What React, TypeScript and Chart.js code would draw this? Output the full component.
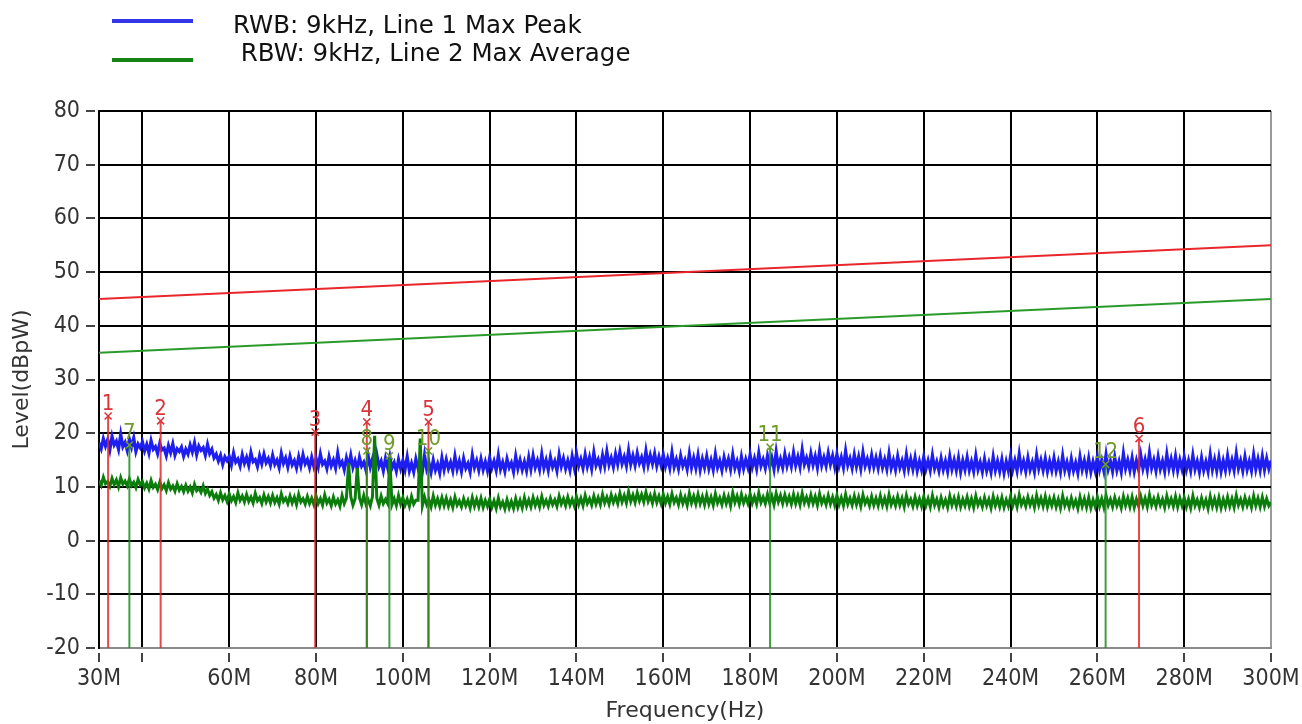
import React, { useEffect, useRef } from 'react';
import { Chart, registerables } from 'chart.js';

Chart.register(...registerables);

// ---------- data ----------
const FREQ_START_MHZ = 30;
const FREQ_STEP_MHZ = 0.5;

// Line 1: Max Peak trace (dBpW), one value every 0.5 MHz from 30 MHz to 300 MHz
const PEAK_LEVELS = [
  18.2, 17.1, 19.0, 17.6, 18.8, 16.9, 19.4, 17.8, 18.5, 17.0,
  19.8, 17.5, 18.3, 16.8, 18.9, 17.4, 19.1, 16.6, 18.0, 17.3,
  18.4, 16.7, 17.9, 16.3, 18.6, 17.0, 17.5, 16.2, 18.1, 16.9,
  17.2, 15.8, 17.7, 16.4, 18.0, 15.9, 17.1, 16.6, 17.4, 15.7,
  17.0, 16.1, 17.8, 16.5, 18.2, 16.0, 17.6, 16.8, 17.3, 15.9,
  17.9, 16.2, 17.0, 15.4, 16.1, 14.8, 15.9, 14.2, 15.6, 14.9,
  15.7, 14.1, 16.3, 14.6, 15.2, 13.9, 16.0, 14.4, 15.5, 14.0,
  16.4, 14.7, 15.1, 13.8, 15.8, 14.3, 16.1, 14.5, 15.3, 14.0,
  15.9, 14.2, 15.0, 13.6, 16.2, 14.4, 15.4, 13.7, 15.7, 14.1,
  14.9, 13.5, 15.6, 13.9, 16.0, 14.3, 15.1, 13.6, 15.5, 13.8,
  15.3, 13.7, 16.1, 14.2, 14.8, 13.4, 15.6, 13.9, 15.0, 13.5,
  16.3, 14.0, 14.7, 13.2, 15.4, 13.8, 15.9, 13.6, 14.9, 13.3,
  15.5, 13.9, 14.6, 13.1, 15.8, 13.7, 15.2, 13.4, 16.0, 13.8,
  14.8, 13.0, 15.3, 13.6, 15.7, 13.5, 14.5, 12.9, 15.1, 13.4,
  14.9, 13.2, 15.6, 13.0, 14.4, 12.8, 15.2, 13.5, 14.7, 12.9,
  15.9, 13.3, 14.5, 12.7, 15.0, 13.1, 14.3, 12.6, 15.4, 13.2,
  15.1, 13.4, 14.6, 13.0, 15.7, 13.3, 14.8, 12.9, 15.3, 13.5,
  14.4, 12.8, 15.9, 13.6, 14.9, 13.1, 15.2, 13.2, 14.7, 13.0,
  15.4, 13.5, 14.8, 13.1, 15.9, 13.3, 14.6, 12.9, 15.2, 13.6,
  14.5, 12.8, 15.7, 13.4, 15.0, 13.2, 14.7, 13.0, 15.5, 13.3,
  15.8, 13.6, 14.9, 13.2, 16.1, 13.5, 15.0, 13.1, 15.6, 13.7,
  14.8, 13.0, 16.0, 13.8, 15.3, 13.4, 14.9, 13.1, 15.7, 13.6,
  16.2, 13.9, 15.2, 13.5, 16.0, 13.8, 15.5, 13.4, 16.4, 14.0,
  15.1, 13.6, 15.9, 13.9, 16.6, 14.1, 15.4, 13.7, 16.1, 14.2,
  16.5, 14.3, 15.6, 13.9, 16.8, 14.2, 15.8, 14.0, 16.3, 14.4,
  15.5, 13.8, 16.7, 14.1, 15.9, 14.3, 16.2, 13.9, 15.6, 14.0,
  16.0, 13.8, 15.3, 13.5, 16.4, 13.7, 15.1, 13.4, 15.8, 13.9,
  15.0, 13.3, 16.2, 13.6, 15.4, 13.5, 15.9, 13.2, 15.2, 13.6,
  15.7, 13.4, 15.0, 13.2, 16.1, 13.6, 14.9, 13.1, 15.5, 13.7,
  15.2, 13.3, 16.0, 13.5, 14.8, 13.0, 15.6, 13.4, 15.1, 13.6,
  16.0, 13.7, 15.3, 13.4, 16.3, 13.9, 15.1, 13.5, 15.8, 13.8,
  15.4, 13.3, 16.5, 13.7, 15.2, 13.6, 16.1, 13.9, 15.5, 13.8,
  16.4, 14.0, 15.6, 13.7, 16.9, 14.2, 15.4, 13.8, 16.2, 14.1,
  15.7, 13.6, 16.6, 14.0, 15.5, 13.9, 16.3, 14.2, 15.8, 13.7,
  16.1, 13.9, 15.5, 13.6, 16.7, 14.0, 15.3, 13.5, 16.0, 13.8,
  15.6, 13.4, 16.4, 13.9, 15.2, 13.6, 15.9, 13.7, 15.4, 13.5,
  15.8, 13.6, 15.1, 13.3, 16.2, 13.5, 15.0, 13.2, 15.7, 13.6,
  14.9, 13.1, 16.0, 13.4, 15.2, 13.3, 15.5, 13.0, 14.8, 13.2,
  15.6, 13.3, 14.9, 13.1, 15.9, 13.4, 14.7, 13.0, 15.3, 13.2,
  14.8, 12.9, 15.7, 13.3, 15.0, 13.1, 15.4, 12.8, 14.9, 13.2,
  15.5, 13.1, 14.7, 12.9, 15.8, 13.2, 14.6, 12.8, 15.2, 13.0,
  14.5, 12.7, 15.6, 13.1, 14.8, 12.9, 15.1, 12.6, 14.7, 13.0,
  15.7, 13.2, 14.9, 13.0, 16.1, 13.3, 14.8, 12.9, 15.4, 13.2,
  14.6, 12.8, 15.9, 13.4, 15.0, 13.1, 15.3, 12.9, 14.8, 13.1,
  15.4, 13.0, 14.7, 12.8, 15.8, 13.1, 14.6, 12.7, 15.2, 13.0,
  14.5, 12.6, 15.6, 13.2, 14.9, 12.9, 15.3, 12.8, 14.7, 13.0,
  15.6, 13.2, 14.9, 13.0, 16.0, 13.3, 14.8, 12.9, 15.5, 13.1,
  14.7, 12.8, 16.2, 13.4, 15.0, 13.1, 15.4, 12.9, 14.9, 13.2,
  15.9, 13.4, 15.1, 13.1, 16.3, 13.5, 15.0, 13.0, 15.6, 13.3,
  14.8, 12.9, 16.1, 13.4, 15.2, 13.2, 15.7, 13.0, 15.0, 13.3,
  15.6, 13.2, 14.9, 13.0, 15.9, 13.3, 14.8, 12.8, 15.4, 13.1,
  14.7, 12.9, 16.0, 13.2, 15.1, 13.0, 15.5, 12.9, 14.9, 13.1,
  15.8, 13.3, 15.0, 13.1, 16.2, 13.4, 14.9, 13.0, 15.6, 13.2,
  14.8, 13.0, 16.0, 13.3, 15.2, 13.1, 15.7, 13.2, 15.3, 13.4,
  14.9,
];

// Line 2: Max Average trace (dBpW), same frequency grid
const AVG_LEVELS = [
  11.2, 10.3, 11.8, 10.6, 11.0, 10.1, 11.6, 10.4, 11.3, 10.0,
  11.7, 10.5, 11.1, 10.2, 11.5, 10.3, 10.9, 9.9, 11.4, 10.4,
  11.0, 9.8, 10.7, 9.6, 11.2, 9.9, 10.5, 9.5, 10.9, 9.7,
  10.4, 9.3, 10.8, 9.6, 10.2, 9.2, 10.6, 9.4, 10.1, 9.1,
  10.3, 9.2, 10.0, 8.9, 10.5, 9.3, 9.8, 9.0, 10.2, 8.8,
  9.6, 8.4, 9.1, 7.9, 8.6, 7.5, 8.9, 7.6, 8.4, 7.3,
  8.7, 7.4, 8.2, 7.1, 8.9, 7.5, 8.3, 7.2, 8.6, 7.3,
  8.1, 7.0, 8.8, 7.4, 8.0, 6.9, 8.5, 7.2, 8.2, 7.0,
  8.4, 7.1, 8.0, 6.8, 8.7, 7.3, 7.9, 6.9, 8.3, 7.0,
  8.1, 6.7, 8.6, 7.2, 7.8, 6.8, 8.2, 6.9, 7.9, 6.7,
  8.3, 6.9, 7.8, 6.6, 8.5, 7.0, 7.7, 6.5, 8.1, 6.8,
  7.6, 6.4, 8.4, 6.9, 7.9, 14.5, 8.2, 6.6, 7.8, 13.5,
  8.0, 6.7, 8.4, 6.8, 7.6, 6.5, 8.2, 19.5, 7.9, 6.6,
  8.3, 6.9, 7.7, 6.9, 15.2, 6.7, 7.8, 6.5, 8.4, 6.8,
  8.0, 6.6, 7.7, 6.4, 8.2, 6.8, 7.5, 7.5, 19.0, 6.5,
  8.1, 6.7, 7.6, 6.3, 8.3, 6.6, 7.8, 6.4, 8.0, 6.5,
  7.9, 6.4, 7.6, 6.2, 8.1, 6.6, 7.4, 6.3, 7.8, 6.5,
  7.5, 6.1, 8.0, 6.4, 7.7, 6.3, 7.9, 6.2, 7.5, 6.4,
  7.7, 6.2, 7.4, 6.0, 7.9, 6.3, 7.2, 5.9, 7.6, 6.1,
  7.3, 6.0, 7.8, 6.2, 7.5, 6.1, 8.0, 6.4, 7.6, 6.3,
  8.0, 6.5, 7.7, 6.3, 8.2, 6.6, 7.5, 6.4, 7.9, 6.7,
  7.6, 6.4, 8.3, 6.8, 7.8, 6.5, 8.1, 6.6, 7.7, 6.5,
  8.2, 6.7, 7.9, 6.5, 8.4, 6.9, 7.8, 6.6, 8.3, 6.8,
  8.0, 6.7, 8.6, 7.0, 8.1, 6.8, 8.5, 7.1, 8.2, 6.9,
  8.8, 7.2, 8.4, 7.0, 9.1, 7.3, 8.5, 7.1, 8.9, 7.4,
  8.6, 7.2, 9.0, 7.3, 8.4, 7.0, 8.7, 7.1, 8.3, 6.9,
  8.6, 7.0, 8.2, 6.8, 8.7, 7.1, 8.0, 6.7, 8.5, 6.9,
  8.1, 6.6, 8.8, 7.0, 8.3, 6.8, 8.6, 6.9, 8.2, 6.7,
  8.5, 6.8, 8.1, 6.6, 8.7, 7.0, 8.0, 6.7, 8.4, 6.9,
  8.2, 6.5, 8.9, 7.1, 8.3, 6.8, 8.6, 7.0, 8.1, 6.9,
  8.7, 7.0, 8.2, 6.8, 8.9, 7.1, 8.1, 6.9, 8.6, 7.0,
  8.3, 6.7, 8.8, 7.2, 8.4, 6.9, 8.5, 7.0, 8.2, 6.8,
  8.6, 6.9, 8.3, 6.7, 8.8, 7.0, 8.1, 6.8, 8.5, 6.9,
  8.2, 6.6, 8.7, 7.0, 8.0, 6.7, 8.4, 6.8, 8.1, 6.6,
  8.4, 6.7, 8.0, 6.5, 8.6, 6.8, 7.9, 6.6, 8.3, 6.7,
  8.1, 6.4, 8.5, 6.9, 7.8, 6.5, 8.2, 6.6, 7.9, 6.5,
  8.3, 6.6, 7.9, 6.4, 8.5, 6.7, 7.8, 6.5, 8.2, 6.6,
  7.9, 6.3, 8.4, 6.8, 7.7, 6.4, 8.1, 6.5, 7.8, 6.4,
  8.2, 6.5, 7.8, 6.3, 8.4, 6.6, 7.7, 6.2, 8.0, 6.5,
  7.6, 6.2, 8.3, 6.6, 7.9, 6.4, 8.1, 6.3, 7.7, 6.5,
  8.1, 6.4, 7.8, 6.2, 8.3, 6.6, 7.6, 6.3, 8.0, 6.5,
  7.7, 6.1, 8.2, 6.5, 7.8, 6.3, 8.0, 6.2, 7.6, 6.4,
  8.2, 6.5, 7.9, 6.3, 8.5, 6.7, 7.7, 6.4, 8.1, 6.6,
  7.8, 6.2, 8.4, 6.6, 7.9, 6.4, 8.2, 6.3, 7.8, 6.5,
  8.0, 6.3, 7.7, 6.1, 8.3, 6.5, 7.6, 6.2, 7.9, 6.4,
  7.5, 6.0, 8.1, 6.4, 7.8, 6.2, 8.0, 6.1, 7.6, 6.3,
  8.1, 6.4, 7.8, 6.2, 8.4, 6.6, 7.7, 6.3, 8.0, 6.5,
  7.6, 6.1, 8.2, 6.5, 7.9, 6.3, 8.1, 6.2, 7.7, 6.4,
  8.2, 6.5, 7.9, 6.3, 8.5, 6.6, 7.8, 6.4, 8.1, 6.6,
  7.7, 6.2, 8.3, 6.6, 7.8, 6.4, 8.2, 6.3, 7.9, 6.5,
  8.0, 6.3, 7.7, 6.1, 8.3, 6.5, 7.6, 6.2, 7.9, 6.4,
  7.6, 6.0, 8.2, 6.4, 7.8, 6.2, 8.0, 6.1, 7.7, 6.3,
  8.1, 6.4, 7.8, 6.2, 8.4, 6.6, 7.7, 6.3, 8.0, 6.5,
  7.7, 6.2, 8.3, 6.5, 7.9, 6.3, 8.1, 6.4, 7.8, 6.5,
  7.2,
];

// limit lines (straight between the band edges)
const LIMIT_FREQ = [30, 300];
const PEAK_LIMIT = [45, 55];
const AVG_LIMIT = [35, 45];

// markers
const PEAK_MARKER_NO = ['1', '2', '3', '4', '5', '6'];
const PEAK_MARKER_FREQ = [32.1, 44.2, 79.8, 91.7, 105.9, 269.6];
const PEAK_MARKER_LEVEL = [23.2, 22.3, 20.2, 22.1, 22.1, 19.0];
const AVG_MARKER_NO = ['7', '8', '9', '10', '11', '12'];
const AVG_MARKER_FREQ = [37.0, 91.7, 96.9, 105.9, 184.6, 261.9];
const AVG_MARKER_LEVEL = [17.8, 16.7, 15.8, 16.7, 17.4, 14.2];

// axes
const X_TICKS = [30, 40, 60, 80, 100, 120, 140, 160, 180, 200, 220, 240, 260, 280, 300];
const X_TICK_LABELS = ['30M', '', '60M', '80M', '100M', '120M', '140M', '160M', '180M', '200M', '220M', '240M', '260M', '280M', '300M'];
const X_MIN = 30;
const X_MAX = 300;
const Y_MIN = -20;
const Y_MAX = 80;
const Y_STEP = 10;

const LEGEND_TEXT_1 = 'RWB: 9kHz, Line 1 Max Peak';
const LEGEND_TEXT_2 = ' RBW: 9kHz, Line 2 Max Average';

// ---------- styles ----------
const BLUE = '#1e1ef0';
const GREEN = '#0b7d0b';
const LIMIT_RED = '#e8262b';
const LIMIT_GREEN = '#2a9a2a';
const MARK_RED = 'rgba(226,40,40,0.85)';
const MARK_GREEN = 'rgba(30,140,30,0.85)';
const LABEL_RED = '#d8343a';
const LABEL_GREEN = '#6f9c2a';
const AXIS_FONT = "'DejaVu Sans Condensed', 'DejaVu Sans', sans-serif";
const TITLE_FONT = "'DejaVu Sans', sans-serif";
const LEGEND_FONT = "'DejaVu Sans', sans-serif";

const tickMarks = {
  id: 'tickMarks',
  afterDraw(chart: any) {
    const { ctx, chartArea, scales } = chart;
    ctx.save();
    ctx.strokeStyle = '#444';
    ctx.lineWidth = 2;
    scales.y.ticks.forEach((t: any) => {
      const y = Math.round(scales.y.getPixelForValue(t.value));
      ctx.beginPath();
      ctx.moveTo(chartArea.left - 13, y);
      ctx.lineTo(chartArea.left - 4, y);
      ctx.stroke();
    });
    scales.x.ticks.forEach((t: any) => {
      const x = Math.round(scales.x.getPixelForValue(t.value));
      ctx.beginPath();
      ctx.moveTo(x, chartArea.bottom + 5);
      ctx.lineTo(x, chartArea.bottom + 14);
      ctx.stroke();
    });
    ctx.restore();
  },
};

const markerLabels = {
  id: 'markerLabels',
  afterDatasetsDraw(chart: any) {
    const { ctx } = chart;
    ctx.save();
    ctx.font = `22px ${AXIS_FONT}`;
    ctx.textAlign = 'center';
    ctx.textBaseline = 'alphabetic';
    chart.data.datasets.forEach((ds: any, i: number) => {
      if (!ds.markerLabel) return;
      const meta = chart.getDatasetMeta(i);
      const pt = meta.data[1];
      if (!pt) return;
      ctx.fillStyle = ds.labelColor;
      ctx.fillText(ds.markerLabel, pt.x, pt.y - 6);
    });
    ctx.restore();
  },
};

function traceData(levels: number[]) {
  return levels.map((v, i) => ({ x: FREQ_START_MHZ + i * FREQ_STEP_MHZ, y: v }));
}

function markerDatasets(nos: string[], freqs: number[], levels: number[], lineColor: string, labelColor: string) {
  return nos.map((no, i) => ({
    label: `marker ${no}`,
    markerLabel: no,
    labelColor,
    data: [
      { x: freqs[i], y: Y_MIN },
      { x: freqs[i], y: levels[i] },
    ],
    borderColor: lineColor,
    borderWidth: 2,
    tension: 0,
    pointRadius: [0, 5],
    pointStyle: 'crossRot',
    pointBorderColor: labelColor,
    pointBorderWidth: 1.5,
    order: 0,
  }));
}

export default function App() {
  const canvasRef = useRef<HTMLCanvasElement | null>(null);

  useEffect(() => {
    if (!canvasRef.current) return;
    const chart = new Chart(canvasRef.current, {
      type: 'line',
      data: {
        datasets: [
          ...markerDatasets(AVG_MARKER_NO, AVG_MARKER_FREQ, AVG_MARKER_LEVEL, MARK_GREEN, LABEL_GREEN),
          ...markerDatasets(PEAK_MARKER_NO, PEAK_MARKER_FREQ, PEAK_MARKER_LEVEL, MARK_RED, LABEL_RED),
          {
            label: 'Max Average',
            data: traceData(AVG_LEVELS),
            borderColor: GREEN,
            borderWidth: 3,
            tension: 0,
            pointRadius: 0,
            order: 1,
          },
          {
            label: 'Max Peak',
            data: traceData(PEAK_LEVELS),
            borderColor: BLUE,
            borderWidth: 3.2,
            tension: 0,
            pointRadius: 0,
            order: 2,
          },
          {
            label: 'Peak limit',
            data: LIMIT_FREQ.map((f, i) => ({ x: f, y: PEAK_LIMIT[i] })),
            borderColor: LIMIT_RED,
            borderWidth: 2,
            tension: 0,
            pointRadius: 0,
            order: 3,
          },
          {
            label: 'Average limit',
            data: LIMIT_FREQ.map((f, i) => ({ x: f, y: AVG_LIMIT[i] })),
            borderColor: LIMIT_GREEN,
            borderWidth: 2,
            tension: 0,
            pointRadius: 0,
            order: 3,
          },
        ] as any,
      },
      options: {
        animation: false,
        responsive: false,
        maintainAspectRatio: false,
        events: [],
        layout: { padding: { top: 111, right: 31, left: 0, bottom: 0 } },
        plugins: { legend: { display: false }, tooltip: { enabled: false } },
        scales: {
          x: {
            type: 'linear',
            min: X_MIN,
            max: X_MAX,
            afterBuildTicks: (scale: any) => {
              scale.ticks = X_TICKS.map((v) => ({ value: v }));
            },
            afterFit: (scale: any) => {
              scale.height = 76;
              scale.paddingLeft = 0;
              scale.paddingRight = 0;
            },
            ticks: {
              autoSkip: false,
              maxRotation: 0,
              padding: 17,
              color: '#333',
              font: { family: AXIS_FONT, size: 23 },
              callback: (value: any) => {
                const idx = X_TICKS.indexOf(Number(value));
                return idx >= 0 ? X_TICK_LABELS[idx] : '';
              },
            },
            grid: {
              drawTicks: false,
              lineWidth: 2,
              color: (ctx: any) => (ctx.tick && ctx.tick.value === X_MAX ? '#9a9a9a' : '#000'),
            },
            border: { display: true, color: '#8a8a8a', width: 2 },
            title: {
              display: true,
              text: 'Frequency(Hz)',
              color: '#333',
              font: { family: TITLE_FONT, size: 22 },
              padding: { top: 0, bottom: 0 },
            },
          },
          y: {
            type: 'linear',
            min: Y_MIN,
            max: Y_MAX,
            afterFit: (scale: any) => {
              scale.width = 99;
            },
            ticks: {
              stepSize: Y_STEP,
              padding: 19,
              color: '#333',
              font: { family: AXIS_FONT, size: 23 },
            },
            grid: {
              drawTicks: false,
              lineWidth: 2,
              color: '#000',
            },
            border: { display: true, color: '#000', width: 2 },
            title: {
              display: true,
              text: 'Level(dBpW)',
              color: '#333',
              font: { family: TITLE_FONT, size: 22 },
              padding: { top: 9, bottom: 0 },
            },
          },
        },
      } as any,
      plugins: [tickMarks, markerLabels],
    });
    return () => chart.destroy();
  }, []);

  const legendText: React.CSSProperties = {
    position: 'absolute',
    left: 233,
    font: `24.5px ${LEGEND_FONT}`,
    lineHeight: '24px',
    whiteSpace: 'pre',
    color: '#111',
  };

  return (
    <div style={{ position: 'fixed', left: 0, top: 0, width: 1302, height: 724, background: '#fff' }}>
      <canvas ref={canvasRef} width={1302} height={724} style={{ position: 'absolute', left: 0, top: 0, display: 'block' }} />
      <div style={{ position: 'absolute', left: 112, top: 19, width: 81, height: 4, background: '#3535e8' }} />
      <div style={{ position: 'absolute', left: 112, top: 58, width: 81, height: 4, background: '#148214' }} />
      <div style={{ ...legendText, top: 13 }}>{LEGEND_TEXT_1}</div>
      <div style={{ ...legendText, top: 41 }}>{LEGEND_TEXT_2}</div>
    </div>
  );
}
